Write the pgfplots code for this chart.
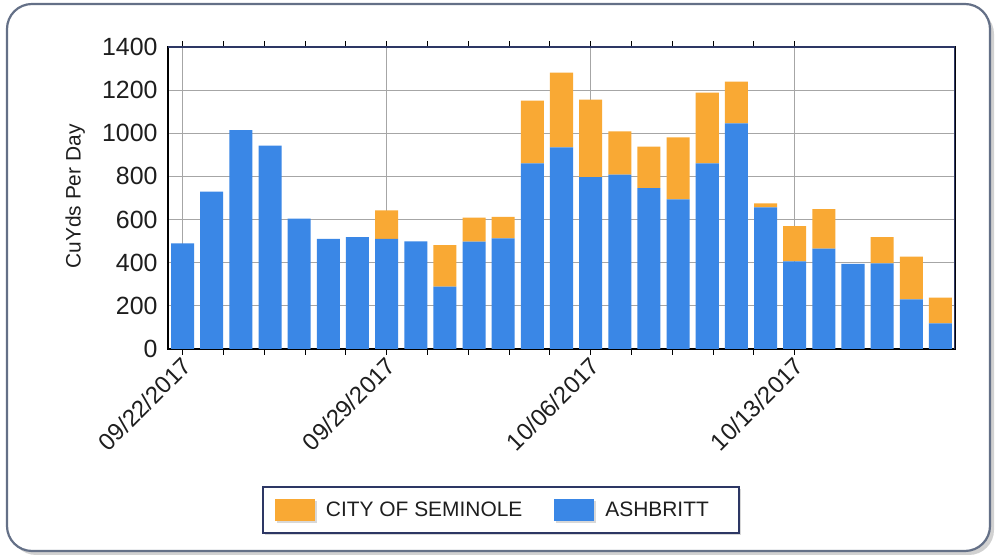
\documentclass[border=0pt]{standalone}
\usepackage{fontspec}
\setmainfont{Liberation Sans}
\usepackage{pgfplots}
\usepackage{pgfplotstable}
\pgfplotsset{compat=1.18}
\usetikzlibrary{shadows}
\definecolor{ashblue}{RGB}{58,135,230}
\definecolor{semorange}{RGB}{249,169,52}
\definecolor{navy}{RGB}{45,55,100}
\definecolor{framec}{RGB}{100,112,135}
\definecolor{txt}{RGB}{30,30,30}
\pgfplotstableread{
idx ash sem
0 490 0
1 730 0
2 1015 0
3 943 0
4 604 0
5 510 0
6 519 0
7 511 132
8 499 0
9 289 193
10 498 111
11 513 100
12 861 290
13 935 346
14 797 359
15 808 201
16 746 192
17 694 287
18 861 327
19 1046 193
20 657 18
21 406 164
22 465 183
23 394 0
24 397 122
25 230 198
26 119 119
}\datatable
\begin{document}
\begin{tikzpicture}[x=1bp,y=1bp]
\useasboundingbox (0,0) rectangle (1003,555);
\fill[black!18, rounded corners=25bp] (11,0) rectangle (994,546);
\draw[framec, line width=2.2bp, fill=white, rounded corners=25bp] (7,4) rectangle (990,551);
\begin{axis}[
  at={(168bp,206bp)}, anchor=south west,
  scale only axis, width=787bp, height=302bp,
  ybar stacked, bar width=0.79,
  xmin=-0.5, xmax=26.5, ymin=0, ymax=1400,
  xtick={0,7,14,21},
  xticklabels={09/22/2017,09/29/2017,10/06/2017,10/13/2017},
  minor x tick num=4,
  ytick={0,200,...,1400},
  /pgf/number format/assume math mode=true,
  /pgf/number format/1000 sep={},
  xmajorgrids, ymajorgrids,
  grid style={black!35, line width=0.9bp},
  axis line style={black, line width=1.6bp},
  tick align=outside,
  major tick length=6bp, minor tick length=6bp,
  xtick style={black, line width=0.8bp},
  ytick style={draw=none},
  yticklabel style={font=\fontsize{25}{28}\selectfont, text=txt, xshift=-1bp},
  xticklabel style={font=\fontsize{24}{28}\selectfont, text=txt, rotate=45, anchor=east, xshift=2bp, yshift=-8bp},
  ylabel={CuYds Per Day},
  ylabel style={at={(rel axis cs:-0.118,0.505)}, anchor=center, font=\fontsize{21}{24}\selectfont, text=txt},
  reverse legend,
  legend columns=2,
  legend style={at={(rel axis cs:0.423,-0.533)}, anchor=center, draw=navy, line width=1.4bp,
    font=\fontsize{21}{24}\selectfont, text=txt, inner xsep=12bp, inner ysep=12bp,
    drop shadow={shadow xshift=2bp, shadow yshift=-2bp, fill=black!30},
    /tikz/every even column/.append style={column sep=30bp}},
  legend image code/.code={\fill[#1, draw=none] (0bp,-11bp) rectangle (40bp,11bp); \path (49bp,0bp);},
]
\addplot[fill=ashblue, draw=none] table[x=idx, y=ash] {\datatable};
\addlegendentry{ASHBRITT\hspace*{16bp}\mbox{}}
\addplot[fill=semorange, draw=none] table[x=idx, y=sem] {\datatable};
\addlegendentry{CITY OF SEMINOLE}
\draw[navy, line width=1.6bp] (rel axis cs:0,1) -- (rel axis cs:1,1) -- (rel axis cs:1,0);
\end{axis}
\end{tikzpicture}
\end{document}
